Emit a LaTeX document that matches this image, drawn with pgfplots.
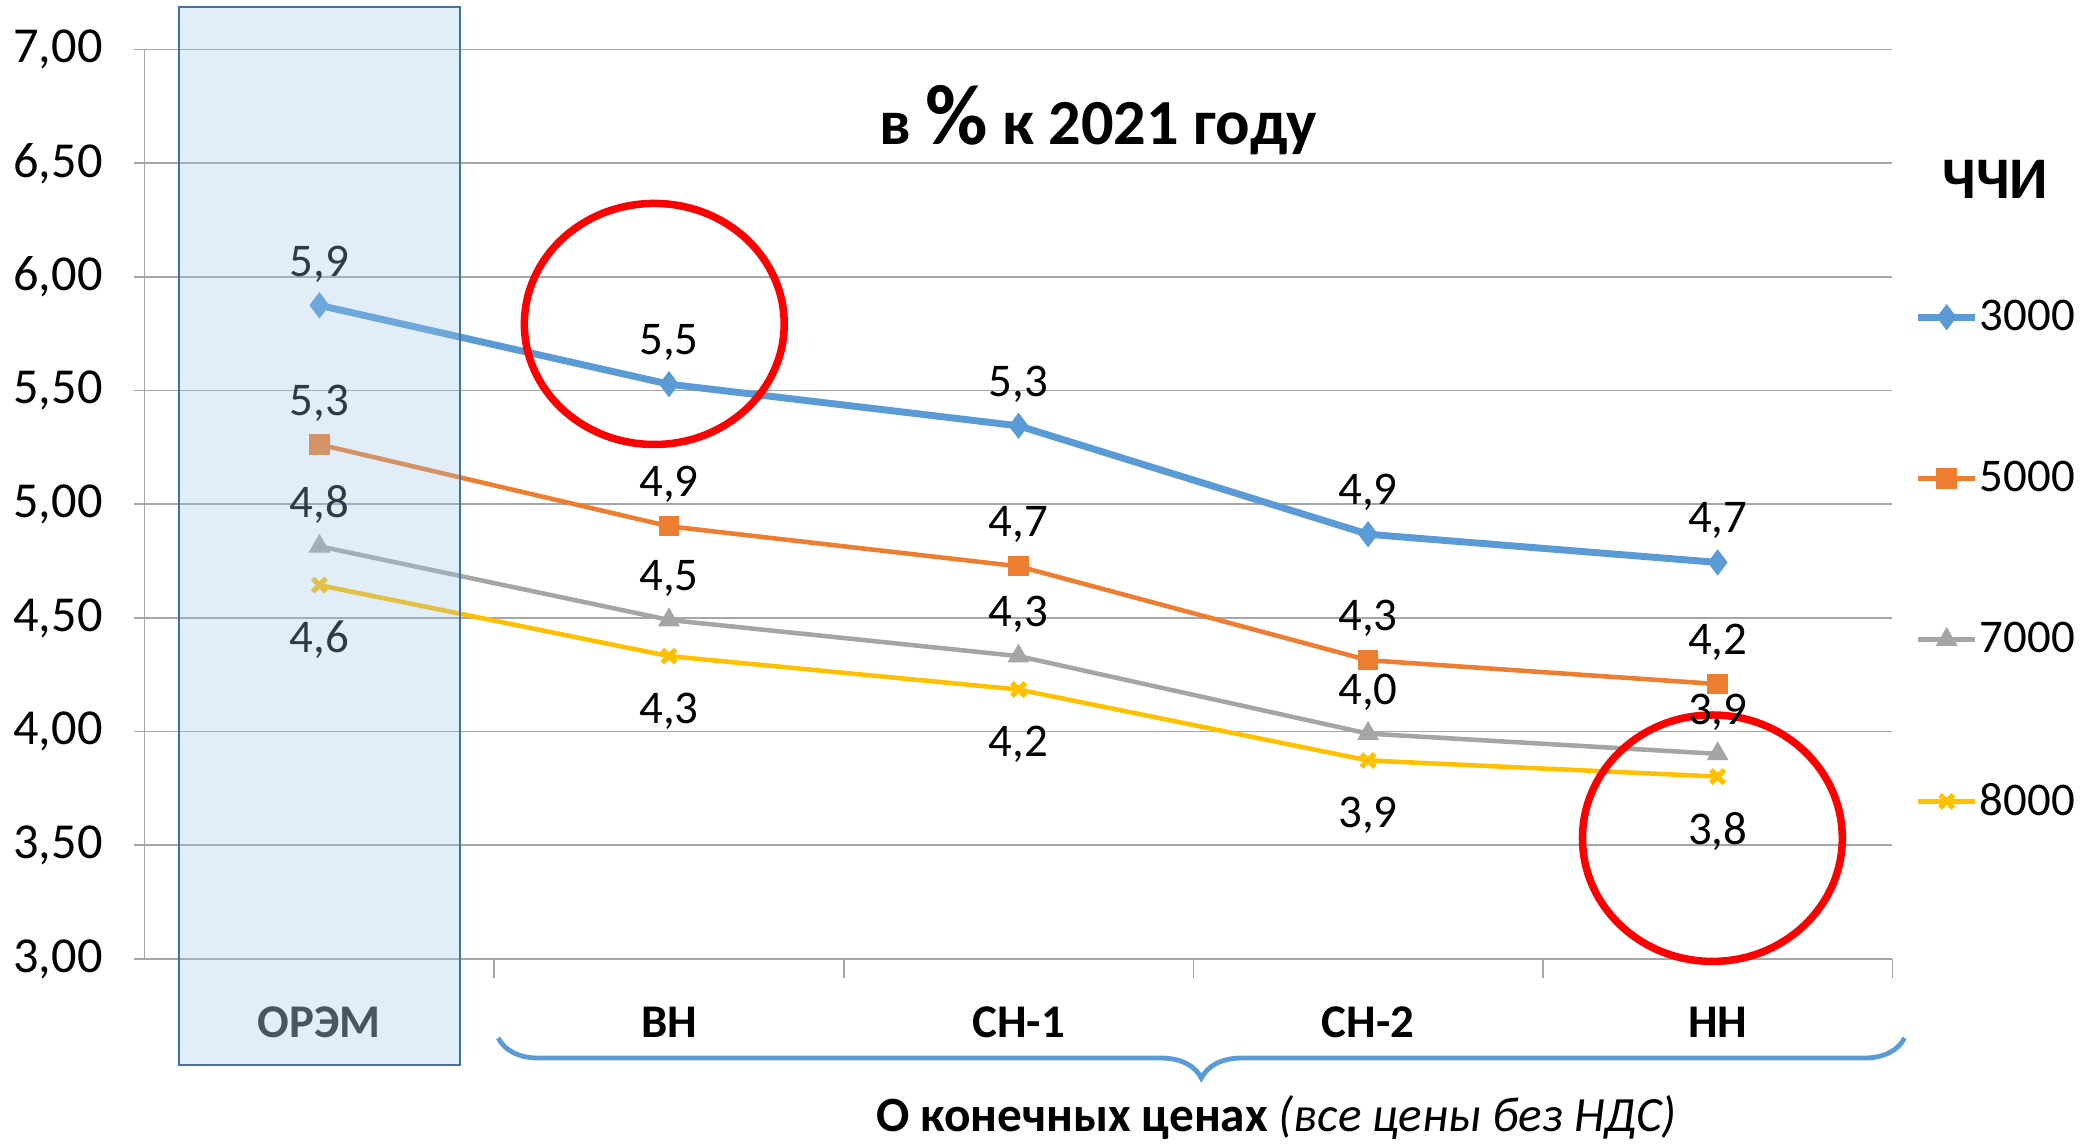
\documentclass[border=0pt]{standalone}
\usepackage{fontspec}
\setmainfont{Carlito}
\usepackage{pgfplots}
\pgfplotsset{compat=1.18}
\usetikzlibrary{decorations.pathreplacing}
\definecolor{c1}{HTML}{5B9BD5}
\definecolor{c2}{HTML}{ED7D31}
\definecolor{c3}{HTML}{A5A5A5}
\definecolor{c4}{HTML}{FFC000}
\definecolor{gridc}{HTML}{A6A6A6}
\definecolor{boxfill}{HTML}{9DC3E6}
\definecolor{boxline}{HTML}{41719C}
\definecolor{oremc}{HTML}{262626}
\newcommand{\fs}{\fontsize{17.5}{21}\selectfont}
\begin{document}
\begin{tikzpicture}
\path[use as bounding box] (0,0) rectangle (784pt,428pt);
\begin{axis}[
  at={(54pt,70pt)}, anchor=south west,
  scale only axis, width=652.5pt, height=339.5pt,
  xmin=-0.5, xmax=4.5, ymin=3, ymax=7,
  ytick={3,3.5,...,7},
  ymajorgrids, grid style={gridc, line width=0.6pt},
  axis lines*=left, axis line style={gridc, line width=0.6pt},
  tick align=outside, major tick length=4pt, minor tick length=7pt,
  ytick style={gridc, line width=0.6pt},
  xtick={0,1,2,3,4},
  xticklabels={\textcolor{oremc}{ОРЭМ}, ВН, СН-1, СН-2, НН},
  minor xtick={0.5,1.5,2.5,3.5,4.5},
  major x tick style={draw=none},
  minor x tick style={gridc, line width=0.6pt},
  yticklabel style={font=\fontsize{18.8}{22}\selectfont, anchor=east, inner sep=0pt, xshift=-11.5pt,
    /pgf/number format/.cd, fixed, fixed zerofill, precision=2, use comma, assume math mode=true},
  xticklabel style={font=\fs\bfseries, anchor=base, inner sep=0pt, yshift=-25.5pt},
  clip=false,
  nodes near coords={\pgfmathprintnumber[fixed,fixed zerofill,precision=1,use comma,assume math mode=true]{\pgfplotspointmeta}},
  point meta=y,
  every node near coord/.append style={font=\fs, text=black, anchor=center, yshift=15.5pt},
  legend style={at={(axis description cs:1,0.439)}, anchor=west, xshift=8pt, draw=none, fill=none,
    inner sep=0pt, row sep=46.7pt, column sep=0pt, font=\fs, nodes={inner sep=0.3pt}},
  legend cell align=left,
  legend image code/.code={\draw[mark repeat=2,mark phase=2] plot coordinates {(0pt,0pt)(10.75pt,0pt)(21.5pt,0pt)};},
]
\addplot[c1, line width=2.6pt, mark=diamond*, mark size=4.6pt, mark options={solid, fill=c1, line width=0.4pt}]
  coordinates {(0,5.875)(1,5.528)(2,5.345)(3,4.868)(4,4.744)};
\addlegendentry{3000}
\addplot[c2, line width=1.7pt, mark=square*, mark size=3.6pt, mark options={solid, fill=c2, line width=0.4pt}]
  coordinates {(0,5.263)(1,4.903)(2,4.727)(3,4.314)(4,4.209)};
\addlegendentry{5000}
\addplot[c3, line width=1.7pt, mark=triangle*, mark size=4.3pt, mark options={solid, fill=c3, line width=0.4pt}]
  coordinates {(0,4.815)(1,4.491)(2,4.332)(3,3.991)(4,3.902)};
\addlegendentry{7000}
\addplot[c4, line width=1.7pt, mark=x, mark size=3.5pt, mark options={solid, line width=1.9pt},
  every node near coord/.append style={yshift=-36pt}]
  coordinates {(0,4.644)(1,4.332)(2,4.185)(3,3.873)(4,3.802)};
\addlegendentry{8000}
\draw[red, line width=2.8pt] (axis cs:0.958,5.793) ellipse [x radius=48.5pt, y radius=45pt];
\draw[red, line width=2.8pt] (axis cs:3.985,3.531) ellipse [x radius=48.5pt, y radius=46pt];
\coordinate (bA) at (axis cs:-0.402,7.188);
\coordinate (bB) at (axis cs:0.402,2.535);
\end{axis}
\fill[boxfill, fill opacity=0.3] (bA) rectangle (bB);
\draw[boxline, line width=0.8pt] (bA) rectangle (bB);
\begin{scope}[x=0.5pt, y=-0.5pt, shift={(0pt,428pt)}]
\node[anchor=base, inner sep=0pt, font=\fontsize{24}{28}\selectfont\bfseries] at (820,108)
  {в {\fontsize{32}{32}\selectfont\%} к 2021 году};
\node[anchor=base, inner sep=0pt, font=\fontsize{22}{26}\selectfont\bfseries] at (1490,148) {ЧЧИ};
\node[anchor=base, inner sep=0pt, font=\fontsize{18.4}{22}\selectfont] at (953,845)
  {\textbf{О конечных ценах} \textit{(все цены без НДС)}};
\draw[c1, line width=1.8pt, decorate, decoration={brace, mirror, amplitude=15pt, aspect=0.5}] (372,775) -- (1422,775);
\end{scope}
\end{tikzpicture}
\end{document}
